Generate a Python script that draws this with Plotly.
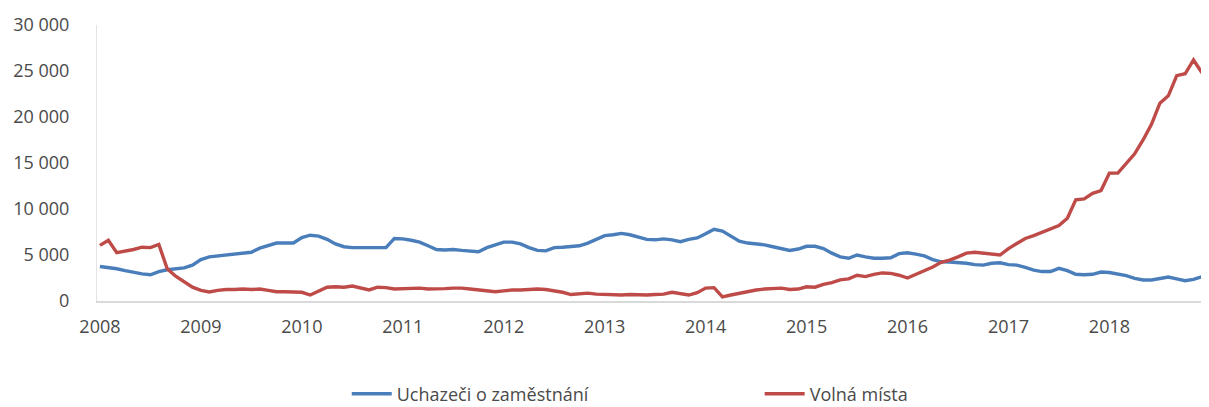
import plotly.graph_objects as go

years = [str(y) for y in range(2008, 2019)]
months = list(range(132))

uchazeci = [
    3750, 3650, 3500, 3300, 3100, 2950, 2850, 3200, 3400, 3500, 3600, 3900,
    4500, 4800, 4900, 5000, 5100, 5200, 5300, 5750, 6000, 6300, 6300, 6300,
    6900, 7150, 7050, 6700, 6200, 5900, 5800, 5800, 5750, 5750, 5800, 6800,
    6750, 6600, 6400, 6000, 5600, 5550, 5600, 5500, 5400, 5350, 5800, 6100,
    6400, 6400, 6200, 5800, 5500, 5450, 5800, 5850, 5950, 6000, 6300, 6700,
    7100, 7200, 7350, 7200, 6950, 6700, 6650, 6750, 6650, 6450, 6700, 6850,
    7300, 7800, 7600, 7000, 6500, 6300, 6200, 6100, 5900, 5700, 5500, 5650,
    5950, 5950, 5700, 5200, 4800, 4650, 5000, 4800, 4650, 4650, 4700, 5150,
    5250, 5100, 4900, 4500, 4250, 4240, 4200, 4100, 3950, 3900, 4100, 4150,
    3950, 3900, 3650, 3350, 3200, 3200, 3550, 3300, 2900, 2850, 2900, 3150,
    3100, 2950, 2750, 2450, 2280, 2280, 2450, 2600, 2400, 2200, 2350, 2650,
]

volna_mista = [
    6050, 6600, 5250, 5400, 5600, 5850, 5800, 6150, 3500, 2700, 2100, 1500,
    1150, 980, 1150, 1250, 1250, 1300, 1250, 1300, 1150, 1000, 1000, 1000,
    950, 650, 1100, 1500, 1550, 1500, 1620, 1450, 1200, 1500, 1450, 1300,
    1350, 1400, 1400, 1300, 1300, 1350, 1400, 1400, 1300, 1200, 1100, 1000,
    1100, 1200, 1200, 1250, 1300, 1250, 1100, 950, 700, 750, 850, 750,
    700, 650, 650, 700, 650, 650, 700, 750, 950, 800, 650, 900,
    1400, 1450, 450, 650, 850, 1000, 1200, 1300, 1350, 1400, 1250, 1300,
    1550, 1500, 1800, 2000, 2300, 2400, 2800, 2650, 2900, 3050, 3000, 2800,
    2500, 2900, 3300, 3700, 4200, 4450, 4800, 5200, 5300, 5200, 5100, 5000,
    5700, 6300, 6800, 7100, 7500, 7800, 8200, 9000, 11000, 11100, 11700, 12000,
    13900, 13900, 15000, 16000, 17500, 19200, 21500, 22300, 24500, 24700, 26200, 24800,
]

y_ticks = [0, 5000, 10000, 15000, 20000, 25000, 30000]
y_tick_labels = ["0", "5 000", "10 000", "15 000", "20 000", "25 000", "30 000"]

font_family = "Open Sans, Liberation Sans, sans-serif"
text_color = "#4a4a4a"
font_size = 18

fig = go.Figure()
fig.add_trace(go.Scatter(
    x=months, y=uchazeci, mode="lines", name="Uchazeči o zaměstnání",
    line=dict(color="#4a7ebb", width=3.4), legend="legend",
))
fig.add_trace(go.Scatter(
    x=months, y=volna_mista, mode="lines", name="Volná místa",
    line=dict(color="#be4b48", width=3.4), legend="legend2",
))

legend_common = dict(
    orientation="h", yanchor="middle", y=-0.337, xanchor="left",
    font=dict(size=font_size, color=text_color), itemwidth=40,
    bgcolor="rgba(0,0,0,0)",
)

# page body has an 8px default margin; figure sized so it fits the window
fig.update_layout(
    width=1201, height=399,
    margin=dict(l=89, r=2, t=17, b=106, autoexpand=False),
    paper_bgcolor="white", plot_bgcolor="white",
    font=dict(family=font_family, size=font_size, color=text_color),
    showlegend=True,
    legend=dict(x=0.225, **legend_common),
    legend2=dict(x=0.597, **legend_common),
    xaxis=dict(
        range=[-0.35, 131.6],
        tickmode="array",
        tickvals=[12 * i for i in range(len(years))],
        ticktext=years,
        showgrid=False, zeroline=False, automargin=False,
        showline=True, linecolor="#d9d9d9", linewidth=1.5,
        ticks="", ticklabelstandoff=9,
        tickfont=dict(size=font_size, color=text_color),
    ),
    yaxis=dict(
        range=[0, 30000],
        tickmode="array",
        tickvals=y_ticks,
        ticktext=y_tick_labels,
        showgrid=False, zeroline=False, automargin=False,
        showline=True, linecolor="#e3e3e3", linewidth=1,
        ticks="", ticklabelstandoff=23,
        tickfont=dict(size=font_size, color=text_color),
    ),
)

fig.write_html("out.html")
